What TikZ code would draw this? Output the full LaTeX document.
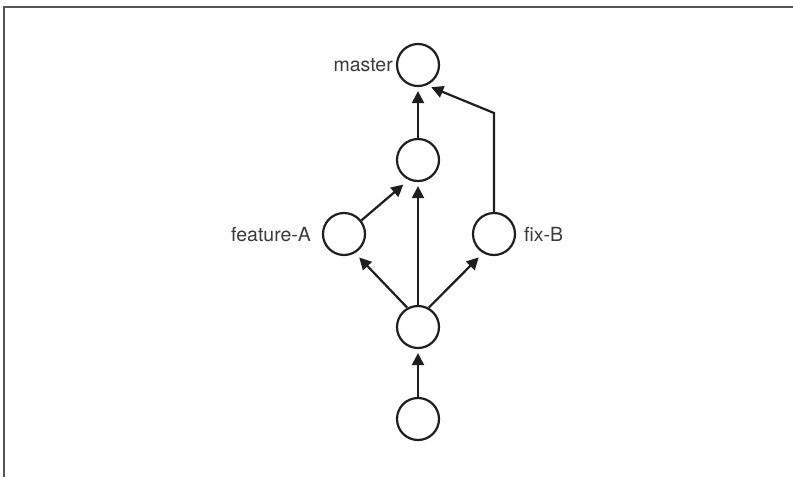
\documentclass[tikz,border=0pt]{standalone}
\usepackage{fontspec}
\setmainfont{TeX Gyre Heros}
\usetikzlibrary{arrows.meta}
\definecolor{ink}{HTML}{1E1E1E}
\definecolor{txt}{HTML}{3A3A3A}
\definecolor{frame}{HTML}{555555}
\tikzset{
  commit/.style={circle, draw=ink, line width=2.2pt, minimum size=42pt, inner sep=0pt},
  link/.style={draw=ink, line width=2.2pt, -{Triangle[length=12pt,width=12pt]}, shorten >=4pt},
  lbl/.style={inner sep=0pt, text=txt, font=\fontsize{19.5pt}{22pt}\selectfont},
}
\begin{document}
\begin{tikzpicture}[x=1pt,y=-1pt]
\useasboundingbox (0,0) rectangle (793,477);
\draw[frame, line width=1.5pt] (4,477) -- (4,7) -- (793,7);

\node[commit] (M) at (418,65) {};
\node[commit] (S) at (418,160) {};
\node[commit] (FA) at (344,234) {};
\node[commit] (FB) at (494,234) {};
\node[commit] (C) at (418,327) {};
\node[commit] (B) at (418,419) {};

\node[lbl, anchor=base east] (lm) at (393,71) {master};
\node[lbl, anchor=base east] (lfa) at (311,241) {feature-A};
\node[lbl, anchor=base west] (lfb) at (524,241) {fix-B};

\coordinate (K) at (494,113);

\draw[link] (B.north) -- (C.south);
\draw[link] (C.north) -- (S.south);
\draw[link] (S.north) -- (M.south);
\draw[link, shorten >=6pt] (C.119) -- (FA.-60);
\draw[link, shorten >=6pt] (C.61) -- (FB.-120);
\draw[link, shorten >=7pt] (FA.38) -- (S.-115);
\draw[link, shorten >=5pt] (FB.north) -- (K) -- (M.-67);
\end{tikzpicture}
\end{document}
